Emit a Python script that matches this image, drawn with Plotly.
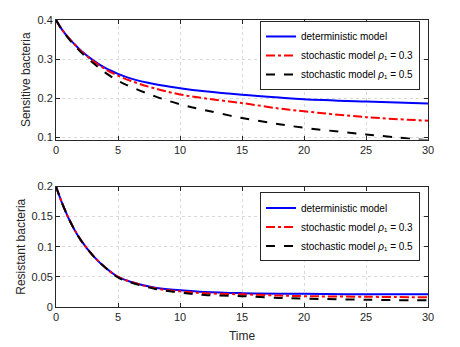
import plotly.graph_objects as go

# time points
t = [0, 0.5, 1, 1.5, 2, 3, 4, 5, 6, 8, 10, 12, 15, 18, 20, 25, 30]

# sensitive bacteria (top panel)
sens_det = [0.4, 0.375, 0.355, 0.338, 0.322, 0.297, 0.277, 0.2625, 0.251, 0.236, 0.226, 0.218, 0.209, 0.202, 0.198, 0.192, 0.187]
sens_r03 = [0.4, 0.375, 0.355, 0.338, 0.321, 0.295, 0.274, 0.258, 0.245, 0.225, 0.21, 0.2, 0.188, 0.174, 0.167, 0.152, 0.143]
sens_r05 = [0.4, 0.374, 0.353, 0.335, 0.318, 0.29, 0.265, 0.245, 0.23, 0.205, 0.185, 0.17, 0.15, 0.134, 0.125, 0.108, 0.093]

# resistant bacteria (bottom panel)
res_det = [0.2, 0.172, 0.148, 0.128, 0.111, 0.085, 0.065, 0.05, 0.042, 0.032, 0.028, 0.025, 0.023, 0.022, 0.022, 0.021, 0.021]
res_r03 = [0.2, 0.172, 0.148, 0.128, 0.111, 0.085, 0.065, 0.05, 0.042, 0.031, 0.026, 0.023, 0.021, 0.019, 0.018, 0.017, 0.016]
res_r05 = [0.2, 0.172, 0.148, 0.128, 0.111, 0.085, 0.065, 0.049, 0.041, 0.03, 0.024, 0.02, 0.018, 0.015, 0.014, 0.012, 0.011]

names = ["deterministic model",
         "stochastic model <i>ρ</i>₁ = 0.3",
         "stochastic model <i>ρ</i>₁ = 0.5"]
colors = ["#0000ff", "#ff0000", "#000000"]
dashes = ["solid", "dashdot", "dash"]

fig = go.Figure()

for ys, nm, c, d in zip([sens_det, sens_r03, sens_r05], names, colors, dashes):
    fig.add_trace(go.Scatter(x=t, y=ys, name=nm, mode="lines", line_shape="spline",
                             line=dict(color=c, width=2, dash=d),
                             xaxis="x", yaxis="y", legend="legend"))
for ys, nm, c, d in zip([res_det, res_r03, res_r05], names, colors, dashes):
    fig.add_trace(go.Scatter(x=t, y=ys, name=nm, mode="lines", line_shape="spline",
                             line=dict(color=c, width=2, dash=d),
                             xaxis="x2", yaxis="y2", legend="legend2"))

axis_style = dict(showline=True, linecolor="#262626", linewidth=1, mirror="ticks",
                  ticks="inside", ticklen=4, tickcolor="#262626",
                  showgrid=True, gridcolor="#d9d9d9", griddash="dot", gridwidth=1,
                  zeroline=False, tickfont=dict(size=11, color="#262626"))

# page body adds 8px offset; plot area on screen: x 56..428, y 14..307
OFF = 8
W, H = 372, 293
leg_style = dict(bgcolor="white", bordercolor="#262626", borderwidth=1,
                 font=dict(size=10, color="#000000"), itemwidth=30,
                 xanchor="right", yanchor="top", tracegroupgap=0)

fig.update_layout(
    width=460, height=347,
    margin=dict(l=56 - OFF, r=460 - 428 + OFF, t=14 - OFF, b=347 - 307 + OFF),
    plot_bgcolor="white", paper_bgcolor="white",
    font=dict(family="Liberation Sans, Arial, sans-serif", color="#262626"),
    xaxis=dict(domain=[0, 1], range=[0, 30], tickvals=[0, 5, 10, 15, 20, 25, 30],
               anchor="y", **axis_style),
    yaxis=dict(domain=[(307 - 136) / H, 1], range=[0.095, 0.4],
               tickvals=[0.1, 0.2, 0.3, 0.4], anchor="x",
               title=dict(text="Sensitive bacteria", font=dict(size=12), standoff=4), **axis_style),
    xaxis2=dict(domain=[0, 1], range=[0, 30], tickvals=[0, 5, 10, 15, 20, 25, 30],
                anchor="y2", title=dict(text="Time", font=dict(size=12), standoff=9), **axis_style),
    yaxis2=dict(domain=[0, (307 - 184) / H], range=[0, 0.2],
                tickvals=[0, 0.05, 0.1, 0.15, 0.2], ticktext=["0", "0.05", "0.1", "0.15", "0.2"],
                anchor="x2",
                title=dict(text="Resistant bacteria", font=dict(size=12), standoff=3), **axis_style),
    legend=dict(x=(420 - 56) / W, y=(307 - 15) / H, **leg_style),
    legend2=dict(x=(420 - 56) / W, y=(307 - 190) / H, **leg_style),
)

fig.write_html("out.html")
